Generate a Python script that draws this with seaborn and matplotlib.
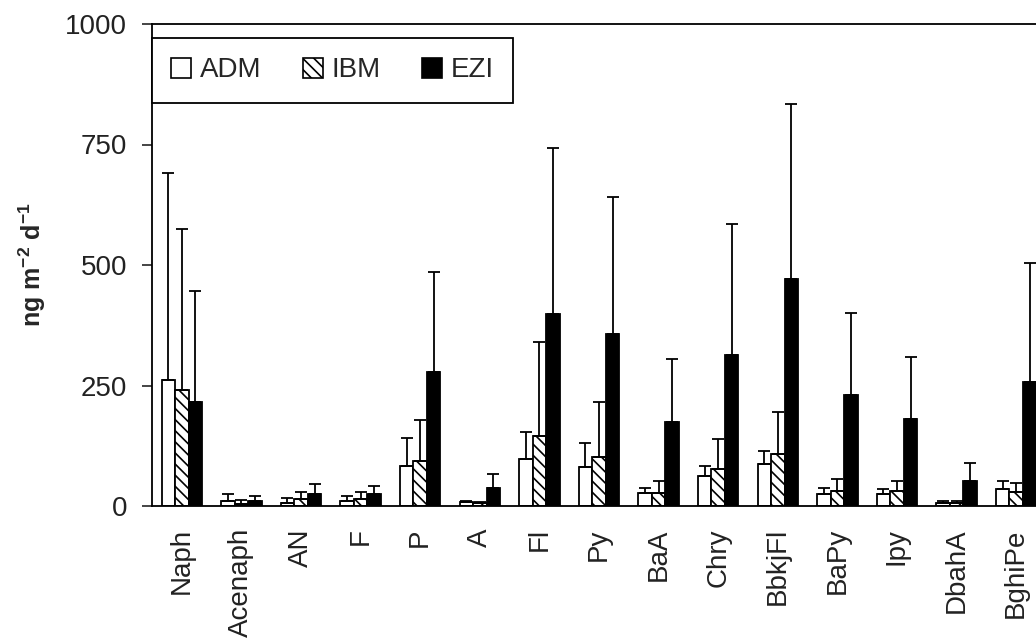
import matplotlib
matplotlib.use("Agg")
import matplotlib.pyplot as plt
from matplotlib.patches import Patch
import numpy as np
import pandas as pd
import seaborn as sns

# PAH deposition fluxes (ng m-2 d-1), mean and upper error bar per site
COMPOUNDS = ["Naph", "Acenaph", "AN", "F", "P", "A", "Fl", "Py", "BaA", "Chry",
             "BbkjFl", "BaPy", "Ipy", "DbahA", "BghiPe"]
SITES = ["ADM", "IBM", "EZI"]
ADM_MEAN = [261, 10, 6, 10, 83, 9, 97, 80, 28, 62, 87, 24, 24, 7, 35]
ADM_TOP = [691, 24, 17, 20, 142, 11, 153, 131, 38, 83, 114, 38, 35, 11, 51]
IBM_MEAN = [241, 4, 14, 14, 93, 7, 146, 101, 28, 76, 108, 31, 31, 7, 30]
IBM_TOP = [575, 12, 30, 30, 178, 8, 341, 216, 51, 139, 194, 55, 51, 11, 48]
EZI_MEAN = [216, 10, 25, 25, 279, 38, 398, 356, 174, 314, 471, 230, 181, 52, 258]
EZI_TOP = [447, 20, 45, 41, 485, 66, 743, 642, 306, 586, 833, 400, 310, 90, 505]

MEANS = {"ADM": ADM_MEAN, "IBM": IBM_MEAN, "EZI": EZI_MEAN}
TOPS = {"ADM": ADM_TOP, "IBM": IBM_TOP, "EZI": EZI_TOP}
COLORS = {"ADM": "white", "IBM": "white", "EZI": "black"}
HATCH = "\\\\\\"

sns.set_style("white")
plt.rcParams["font.family"] = ["Liberation Sans", "DejaVu Sans"]
plt.rcParams["mathtext.fontset"] = "custom"
plt.rcParams["mathtext.bf"] = "Liberation Sans:bold"
plt.rcParams["mathtext.rm"] = "Liberation Sans:bold"
plt.rcParams["hatch.linewidth"] = 1.2

df = pd.DataFrame([(c, s, MEANS[s][i]) for s in SITES
                   for i, c in enumerate(COMPOUNDS)],
                  columns=["compound", "site", "value"])

W, H = 1036, 639
fig = plt.figure(figsize=(W / 100, H / 100), dpi=100)
left, right, bottom, top = 152, 1046, 506, 24
ax = fig.add_axes([left / W, 1 - bottom / H, (right - left) / W, (bottom - top) / H])

sns.barplot(data=df, x="compound", y="value", hue="site", order=COMPOUNDS,
            hue_order=SITES, palette=COLORS, saturation=1, edgecolor="black",
            linewidth=1.3, width=0.68, gap=0, errorbar=None, legend=False, ax=ax)

for cont, site in zip(ax.containers, SITES):
    xs = [p.get_x() + p.get_width() / 2 for p in cont.patches]
    means = np.array(MEANS[site])
    up = np.array(TOPS[site]) - means
    if site == "IBM":
        for p in cont.patches:
            p.set_hatch(HATCH)
    ax.errorbar(xs, means, yerr=[np.zeros_like(up), up], fmt="none",
                ecolor="black", elinewidth=1.3, capsize=4, capthick=1.3, zorder=5)

ax.set_ylim(0, 1000)
ax.set_xlim(-0.5, 14.5)
ax.set_yticks([0, 250, 500, 750, 1000])
ax.set_xticks(range(len(COMPOUNDS)))
ax.set_xticklabels(COMPOUNDS, rotation=90)
ax.set_xticks(np.arange(-0.5, len(COMPOUNDS), 1), minor=True)
ax.tick_params(axis="x", which="major", length=0, pad=16, labelsize=20,
               labelcolor="#222")
ax.tick_params(axis="x", which="minor", length=7, width=1.2, direction="out",
               color="black")
ax.tick_params(axis="y", length=7, width=1.2, direction="out", pad=11,
               labelsize=20, labelcolor="#222", left=True)
ax.set_xlabel("")
ax.set_ylabel(r"ng m$^{-2}$ d$^{-1}$", fontsize=18, fontweight="bold", labelpad=12)

for side in ["left", "bottom", "top", "right"]:
    ax.spines[side].set_visible(True)
    ax.spines[side].set_color("black")
    ax.spines[side].set_linewidth(1.3)

handles = [Patch(facecolor="white", edgecolor="black", linewidth=1.2),
           Patch(facecolor="white", edgecolor="black", linewidth=1.2, hatch=HATCH),
           Patch(facecolor="black", edgecolor="black", linewidth=1.2)]
leg = fig.legend(handles, SITES, loc="upper left",
                 bbox_to_anchor=(left / W, 1 - 38 / H), ncol=3, fontsize=20,
                 frameon=True, fancybox=False, framealpha=1, edgecolor="black",
                 handlelength=0.72, handleheight=0.72, handletextpad=0.3,
                 columnspacing=1.5, borderpad=0.7, borderaxespad=0)
leg.get_frame().set_linewidth(1.3)

fig.savefig("out.png", dpi=100)
